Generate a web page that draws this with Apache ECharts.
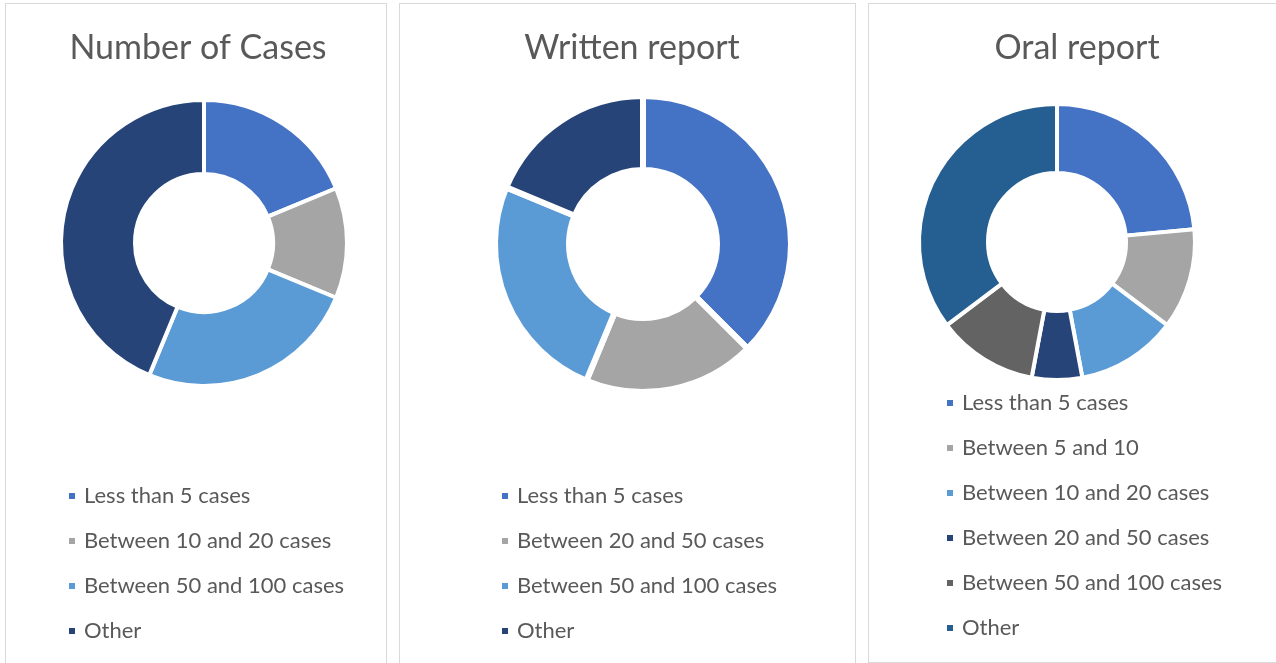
<!DOCTYPE html>
<html>
<head>
<meta charset="utf-8">
<title>Cases and reports</title>
<script src="https://cdn.jsdelivr.net/npm/echarts@6/dist/echarts.min.js"></script>
<style>
  html, body {
    margin: 0;
    padding: 0;
    width: 1276px;
    height: 663px;
    overflow: hidden;
    background: #ffffff;
  }
  .panel {
    position: absolute;
    border: 1px solid #d9d9d9;
    box-sizing: border-box;
    background: #ffffff;
  }
  #casesPanel { left: 5px; top: 3px; width: 382px; height: 680px; }
  #writtenPanel { left: 399px; top: 3px; width: 457px; height: 680px; }
  #oralPanel { left: 868px; top: 3px; width: 430px; height: 660px; }
  .chart { width: 100%; height: 100%; }
</style>
</head>
<body>
<div class="panel" id="casesPanel"><div class="chart" id="casesChart"></div></div>
<div class="panel" id="writtenPanel"><div class="chart" id="writtenChart"></div></div>
<div class="panel" id="oralPanel"><div class="chart" id="oralChart"></div></div>

<script>
// Number of Cases
const casesNames = ['Less than 5 cases', 'Between 10 and 20 cases', 'Between 50 and 100 cases', 'Other'];
const casesValues = [3, 2, 4, 7];
const casesColors = ['#4472C4', '#A5A5A5', '#5B9BD5', '#264478'];

// Written report
const writtenNames = ['Less than 5 cases', 'Between 20 and 50 cases', 'Between 50 and 100 cases', 'Other'];
const writtenValues = [6, 3, 4, 3];
const writtenColors = ['#4472C4', '#A5A5A5', '#5B9BD5', '#264478'];

// Oral report
const oralNames = ['Less than 5 cases', 'Between 5 and 10', 'Between 10 and 20 cases',
  'Between 20 and 50 cases', 'Between 50 and 100 cases', 'Other'];
const oralValues = [4, 2, 2, 1, 2, 6];
const oralColors = ['#4472C4', '#A5A5A5', '#5B9BD5', '#264478', '#636363', '#255E91'];

const FONT = 'Lato, "Liberation Sans", sans-serif';
const TEXT_COLOR = '#595959';

// builds one doughnut panel
function buildDonut(domId, cfg) {
  const chart = echarts.init(document.getElementById(domId), null, { renderer: 'canvas' });
  chart.setOption({
    animation: false,
    textStyle: { fontFamily: FONT },
    title: {
      text: cfg.title,
      left: cfg.titleX,
      top: cfg.titleTop,
      padding: 0,
      textAlign: 'center',
      textStyle: { fontFamily: FONT, fontSize: 34, fontWeight: 'normal', color: TEXT_COLOR }
    },
    legend: {
      orient: 'vertical',
      left: cfg.legendLeft,
      top: cfg.legendTop,
      padding: 0,
      icon: 'rect',
      itemWidth: 8,
      itemHeight: 8,
      itemGap: 21,
      selectedMode: false,
      textStyle: {
        fontFamily: FONT,
        fontSize: 22,
        lineHeight: 24,
        color: TEXT_COLOR,
        padding: [0, 0, 0, 3]
      },
      data: cfg.names.map((n, i) => ({ name: n, itemStyle: { color: cfg.colors[i] } }))
    },
    series: [{
      type: 'pie',
      center: cfg.center,
      radius: cfg.radius,
      startAngle: 90,
      clockwise: true,
      silent: true,
      label: { show: false },
      labelLine: { show: false },
      itemStyle: { borderColor: '#ffffff', borderWidth: cfg.gap },
      data: cfg.names.map((n, i) => ({
        name: n,
        value: cfg.values[i],
        itemStyle: { color: cfg.colors[i] }
      }))
    }]
  });
  return chart;
}

buildDonut('casesChart', {
  title: 'Number of Cases', titleX: 192, titleTop: 27,
  names: casesNames, values: casesValues, colors: casesColors,
  center: [198, 239], radius: [69, 143], gap: 4,
  legendLeft: 61, legendTop: 480
});

buildDonut('writtenChart', {
  title: 'Written report', titleX: 232, titleTop: 27,
  names: writtenNames, values: writtenValues, colors: writtenColors,
  center: [243, 240], radius: [74, 148], gap: 6,
  legendLeft: 100, legendTop: 480
});

buildDonut('oralChart', {
  title: 'Oral report', titleX: 208, titleTop: 27,
  names: oralNames, values: oralValues, colors: oralColors,
  center: [188, 238], radius: [69, 138], gap: 4,
  legendLeft: 76, legendTop: 387
});
</script>
</body>
</html>
